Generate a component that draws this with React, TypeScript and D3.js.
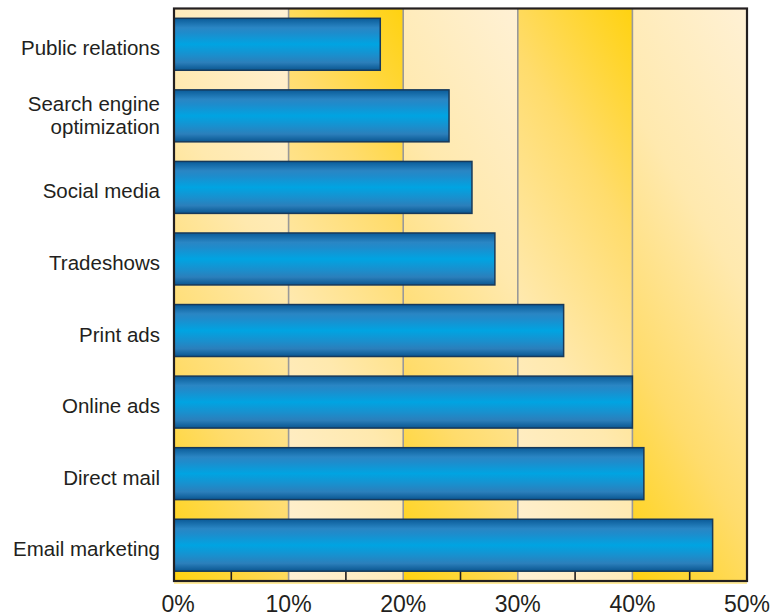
import React from "react";
import * as d3 from "d3";

const categories = [
  "Public relations",
  "Search engine optimization",
  "Social media",
  "Tradeshows",
  "Print ads",
  "Online ads",
  "Direct mail",
  "Email marketing",
];
const values = [18, 24, 26, 28, 34, 40, 41, 47];
const tickValues = [0, 10, 20, 30, 40, 50];
const minorTicks = [5, 15, 25, 35, 45];

const W = 773;
const H = 616;
const left = 174;
const right = 747;
const top = 8.5;
const bottom = 581;

export default function App() {
  const x = d3.scaleLinear().domain([0, 50]).range([left, right]);
  const y = d3
    .scaleBand<string>()
    .domain(categories)
    .range([top, bottom])
    .paddingInner(0.274)
    .paddingOuter(0.137);
  const bw = y.bandwidth();
  const cols = d3.range(5);
  const plotH = bottom - top;
  const ux = -0.853;
  const uy = 0.521;
  const glen = 400;
  const font = "'Liberation Sans', Arial, Helvetica, sans-serif";

  return (
    <div style={{ position: "absolute", left: 0, top: 0 }}>
      <svg width={W} height={H} style={{ display: "block" }}>
        <defs>
          <linearGradient id="barGrad" x1="0" y1="0" x2="0" y2="1">
            <stop offset="0" stopColor="#0A5B98" />
            <stop offset="0.18" stopColor="#2A86C4" />
            <stop offset="0.28" stopColor="#1E8CCC" />
            <stop offset="0.5" stopColor="#00A4E2" />
            <stop offset="0.7" stopColor="#1990CE" />
            <stop offset="0.85" stopColor="#2B7FBB" />
            <stop offset="1" stopColor="#0A5690" />
          </linearGradient>
          {cols.map((i) => {
            const x0 = x(i * 10);
            const x1 = x(i * 10 + 10);
            const odd = i % 2 === 1;
            const sx = odd ? x1 : x0;
            const sy = odd ? top : bottom;
            const dx = odd ? ux : -ux;
            const dy = odd ? uy : -uy;
            return (
              <linearGradient
                key={i}
                id={`colGrad${i}`}
                gradientUnits="userSpaceOnUse"
                x1={sx}
                y1={sy}
                x2={sx + dx * glen}
                y2={sy + dy * glen}
              >
                <stop offset="0" stopColor="#FFD210" />
                <stop offset="0.3" stopColor="#FFDC6C" />
                <stop offset="0.62" stopColor="#FFE9AE" />
                <stop offset="1" stopColor="#FFF1D6" />
              </linearGradient>
            );
          })}
        </defs>
        {cols.map((i) => (
          <rect
            key={i}
            x={x(i * 10)}
            y={top}
            width={x(i * 10 + 10) - x(i * 10)}
            height={plotH}
            fill={`url(#colGrad${i})`}
          />
        ))}
        {tickValues.slice(1, -1).map((t) => (
          <line
            key={t}
            x1={x(t)}
            x2={x(t)}
            y1={top}
            y2={bottom}
            stroke="#999999"
            strokeWidth={1.6}
          />
        ))}
        {minorTicks.map((t) => (
          <line
            key={t}
            x1={x(t)}
            x2={x(t)}
            y1={bottom - 10}
            y2={bottom}
            stroke="#231F20"
            strokeWidth={1.6}
          />
        ))}
        {categories.map((c, i) => (
          <rect
            key={c}
            x={x(0)}
            y={y(c)!}
            width={x(values[i]) - x(0)}
            height={bw}
            fill="url(#barGrad)"
            stroke="#17395A"
            strokeWidth={1.5}
          />
        ))}
        <line x1={left} x2={right} y1={bottom + 2} y2={bottom + 2} stroke="#FFD83A" strokeWidth={1} />
        <rect
          x={left}
          y={top}
          width={right - left}
          height={plotH}
          fill="none"
          stroke="#231F20"
          strokeWidth={2.2}
        />
        {categories.map((c) => {
          const cy = y(c)! + bw / 2;
          const words = c === "Search engine optimization" ? ["Search engine", "optimization"] : [c];
          return (
            <text
              key={c}
              x={160}
              textAnchor="end"
              fontFamily={font}
              fontSize={20.5}
              fill="#231F20"
            >
              {words.length === 1 ? (
                <tspan x={160} y={cy + 11}>
                  {c}
                </tspan>
              ) : (
                words.map((w, k) => (
                  <tspan key={k} x={160} y={cy - 5 + k * 23.6}>
                    {w}
                  </tspan>
                ))
              )}
            </text>
          );
        })}
        {tickValues.map((t) => (
          <text
            key={t}
            x={x(t) + (t === 0 ? 4 : 0)}
            y={611.5}
            textAnchor="middle"
            fontFamily={font}
            fontSize={23}
            fill="#231F20"
          >
            {`${t}%`}
          </text>
        ))}
      </svg>
    </div>
  );
}
